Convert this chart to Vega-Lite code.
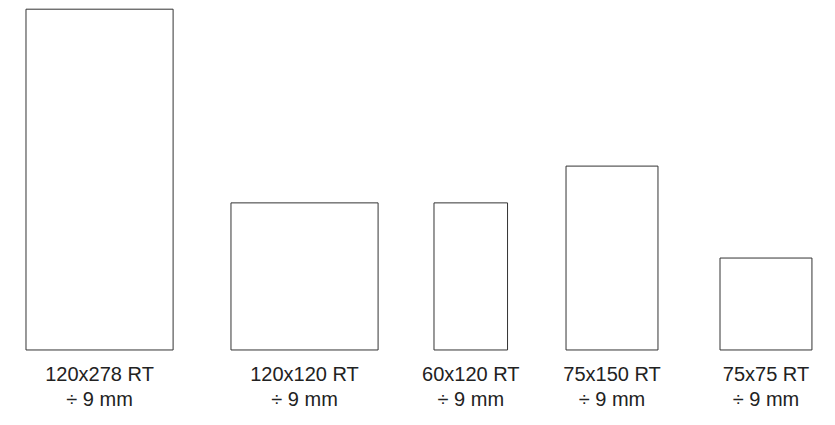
{
  "$schema": "https://vega.github.io/schema/vega-lite/v6.json",
  "width": 835,
  "height": 425,
  "padding": 0,
  "autosize": {"type": "fit", "contains": "padding"},
  "background": "white",
  "config": {"view": {"stroke": null}},
  "data": {
    "values": [
      {"size": "120x278 RT", "thickness": "÷ 9 mm", "x0": 21.2, "x1": 141.2, "h": 278},
      {"size": "120x120 RT", "thickness": "÷ 9 mm", "x0": 188.4, "x1": 308.4, "h": 120},
      {"size": "60x120 RT", "thickness": "÷ 9 mm", "x0": 354.0, "x1": 414.0, "h": 120},
      {"size": "75x150 RT", "thickness": "÷ 9 mm", "x0": 461.7, "x1": 536.7, "h": 150},
      {"size": "75x75 RT", "thickness": "÷ 9 mm", "x0": 587.3, "x1": 662.3, "h": 75}
    ]
  },
  "transform": [
    {"calculate": "(datum.x0 + datum.x1) / 2", "as": "mid"},
    {"calculate": "[datum.size, datum.thickness]", "as": "label"},
    {"calculate": "0", "as": "base"}
  ],
  "layer": [
    {
      "mark": {"type": "rect", "fill": "white", "stroke": "#333333", "strokeWidth": 1},
      "encoding": {
        "x": {"field": "x0", "type": "quantitative", "scale": {"domain": [0, 681.1], "nice": false, "zero": false}, "axis": null},
        "x2": {"field": "x1"},
        "y": {"field": "h", "type": "quantitative", "scale": {"domain": [-61.2, 285.5], "nice": false, "zero": false}, "axis": null},
        "y2": {"field": "base"}
      }
    },
    {
      "mark": {"type": "text", "font": "Liberation Sans", "fontSize": 20, "color": "#222222", "align": "center", "baseline": "alphabetic", "dy": 31, "lineHeight": 25},
      "encoding": {
        "x": {"field": "mid", "type": "quantitative"},
        "y": {"field": "base", "type": "quantitative"},
        "text": {"field": "label"}
      }
    }
  ]
}
